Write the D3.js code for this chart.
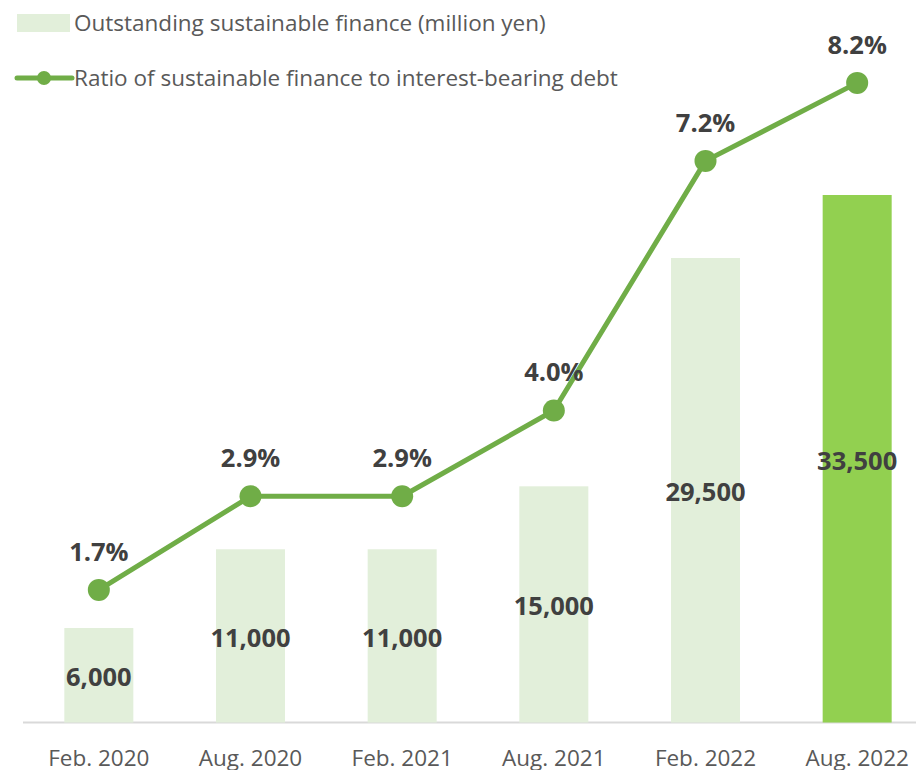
<!DOCTYPE html>
<meta charset="utf-8">
<script src="https://d3js.org/d3.v7.min.js"></script>
<style>
  body { margin: 0; background: #fff; }
  text { font-family: "Open Sans", "Noto Sans", sans-serif; }
</style>
<div id="chart"></div>
<script>

// data
var periods = ["Feb. 2020", "Aug. 2020", "Feb. 2021", "Aug. 2021", "Feb. 2022", "Aug. 2022"];
var outstanding = [6000, 11000, 11000, 15000, 29500, 33500];
var ratio = [1.7, 2.9, 2.9, 4.0, 7.2, 8.2];
var legendNames = ["Outstanding sustainable finance (million yen)", "Ratio of sustainable finance to interest-bearing debt"];

var width = 916, height = 770, base = 722.5;

var svg = d3.select("#chart").append("svg")
    .attr("width", width)
    .attr("height", height);

var x = d3.scaleBand()
    .domain(periods)
    .range([23, 933])
    .paddingInner(0.545)
    .paddingOuter(0.2725);

// bars axis
var y = d3.scaleLinear()
    .domain([0, 40000])
    .range([base, base - 40000 * 0.015746]);

// ratio axis
var y2 = d3.scaleLinear()
    .domain([0, 9])
    .range([base, base - 9 * 78]);

// baseline
svg.append("line")
    .attr("x1", 23).attr("x2", width)
    .attr("y1", base).attr("y2", base)
    .attr("stroke", "#d9d9d9")
    .attr("stroke-width", 2);

// bars
svg.append("g").selectAll("rect")
  .data(outstanding)
  .enter().append("rect")
    .attr("x", function(d, i) { return x(periods[i]); })
    .attr("y", function(d) { return y(d); })
    .attr("width", x.bandwidth())
    .attr("height", function(d) { return base - y(d); })
    .attr("fill", function(d, i) { return i == periods.length - 1 ? "#92d050" : "#e2efda"; });

// bar labels, centred in the bar
svg.append("g").selectAll("text")
  .data(outstanding)
  .enter().append("text")
    .attr("x", function(d, i) { return x(periods[i]) + x.bandwidth() / 2; })
    .attr("y", function(d) { return (y(d) + base) / 2 + 2; })
    .attr("dy", "0.35em")
    .attr("text-anchor", "middle")
    .attr("font-size", 25.5)
    .attr("font-weight", "bold")
    .attr("fill", "#404040")
    .text(function(d) { return d3.format(",")(d); });

// x axis labels
svg.append("g").selectAll("text")
  .data(periods)
  .enter().append("text")
    .attr("x", function(d) { return x(d) + x.bandwidth() / 2; })
    .attr("y", 766)
    .attr("text-anchor", "middle")
    .attr("font-size", 22.5)
    .attr("fill", "#595959")
    .text(function(d) { return d; });

// ratio line
var line = d3.line()
    .x(function(d, i) { return x(periods[i]) + x.bandwidth() / 2; })
    .y(function(d) { return y2(d); });

svg.append("path")
    .datum(ratio)
    .attr("d", line)
    .attr("fill", "none")
    .attr("stroke", "#70ad47")
    .attr("stroke-width", 5)
    .attr("stroke-linejoin", "round");

svg.append("g").selectAll("circle")
  .data(ratio)
  .enter().append("circle")
    .attr("cx", function(d, i) { return x(periods[i]) + x.bandwidth() / 2; })
    .attr("cy", function(d) { return y2(d); })
    .attr("r", 11)
    .attr("fill", "#70ad47");

svg.append("g").selectAll("text")
  .data(ratio)
  .enter().append("text")
    .attr("x", function(d, i) { return x(periods[i]) + x.bandwidth() / 2; })
    .attr("y", function(d) { return y2(d) - 38; })
    .attr("dy", "0.35em")
    .attr("text-anchor", "middle")
    .attr("font-size", 25.5)
    .attr("font-weight", "bold")
    .attr("fill", "#404040")
    .text(function(d) { return d.toFixed(1) + "%"; });

// legend
var legend = svg.append("g");
legend.append("rect")
    .attr("x", 17).attr("y", 14)
    .attr("width", 53).attr("height", 18)
    .attr("fill", "#e2efda");
legend.append("text")
    .attr("x", 74).attr("y", 23)
    .attr("dy", "0.35em")
    .attr("font-size", 22.5)
    .attr("fill", "#595959")
    .text(legendNames[0]);

legend.append("line")
    .attr("x1", 17).attr("x2", 72)
    .attr("y1", 78).attr("y2", 78)
    .attr("stroke", "#70ad47")
    .attr("stroke-width", 5)
    .attr("stroke-linecap", "round");
legend.append("circle")
    .attr("cx", 44).attr("cy", 78)
    .attr("r", 7)
    .attr("fill", "#70ad47");
legend.append("text")
    .attr("x", 74).attr("y", 78)
    .attr("dy", "0.35em")
    .attr("font-size", 22.5)
    .attr("fill", "#595959")
    .text(legendNames[1]);

</script>
